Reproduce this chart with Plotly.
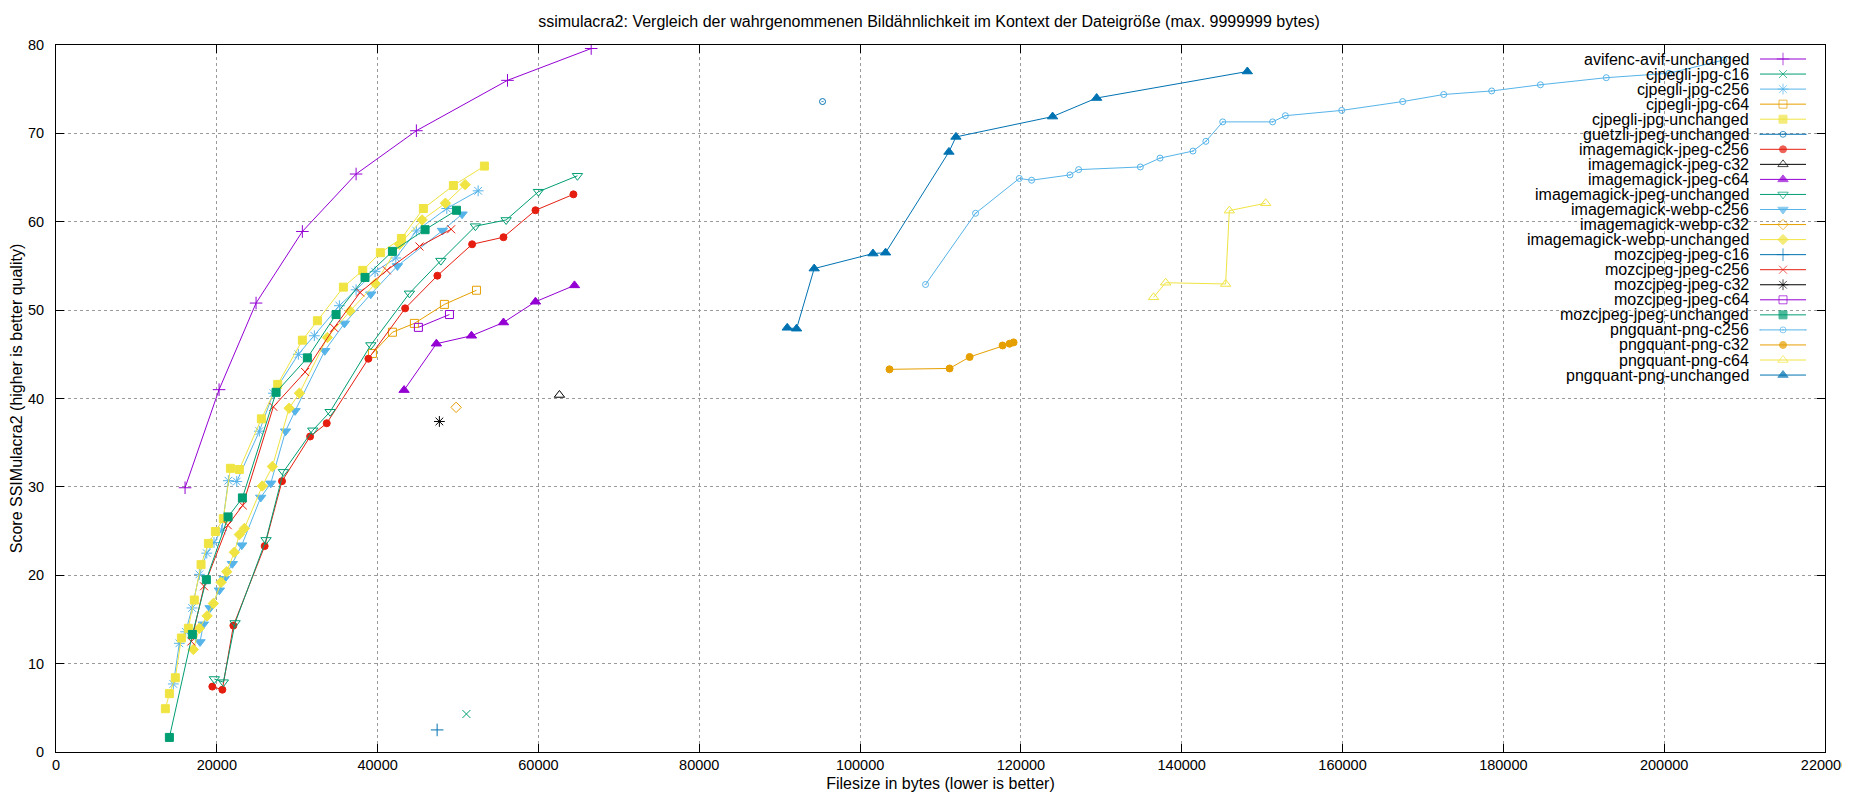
import plotly.graph_objects as go

# values (filesize in bytes, ssimulacra2 score)
avif_x = [16050, 20280, 24880, 30640, 37320, 44820, 56150, 66560]
avif_y = [29.9, 41.0, 50.8, 58.9, 65.4, 70.3, 76.0, 79.6]

cjpegli_c16_x = [51040]
cjpegli_c16_y = [4.3]

cjpegli_c256_x = [14590, 15340, 16130, 16920, 17830, 18750, 19650, 20610, 21440, 22480, 25290,
                  27030, 30140, 32130, 35240, 37320, 39680, 42260, 44820, 48600, 52500]
cjpegli_c256_y = [7.7, 12.3, 13.6, 16.3, 20.1, 22.5, 23.7, 25.1, 30.7, 30.6, 36.3,
                  40.6, 45.0, 47.1, 50.5, 52.3, 54.35, 55.9, 58.96, 61.5, 63.5]

cjpegli_c64_x = [39350, 41840, 44570, 48300, 52290]
cjpegli_c64_y = [45.1, 47.5, 48.5, 50.65, 52.25]

cjpegli_unch_x = [13600, 14100, 14840, 15590, 16460, 17200, 18040, 18950, 19820, 20810, 21690, 22800,
                  25540, 27570, 30640, 32510, 35740, 38150, 40340, 42950, 45690, 49420, 53280]
cjpegli_unch_y = [4.9, 6.6, 8.4, 12.9, 14.0, 17.2, 21.2, 23.6, 24.95, 26.4, 32.1, 31.97,
                  37.7, 41.6, 46.6, 48.8, 52.6, 54.5, 56.5, 58.1, 61.5, 64.1, 66.3]

guetzli_x = [95330]
guetzli_y = [73.6]

im_jpeg_c256_x = [19440, 20690, 22060, 25950, 28110, 31600, 33670, 38850, 43420, 47430,
                  51750, 55650, 59630, 64350]
im_jpeg_c256_y = [7.4, 7.05, 14.3, 23.3, 30.65, 35.7, 37.2, 44.5, 50.2, 53.9,
                  57.45, 58.25, 61.3, 63.1]

im_jpeg_c32_x = [62610]
im_jpeg_c32_y = [40.4]

im_jpeg_c64_x = [43290, 47310, 51670, 55650, 59630, 64480]
im_jpeg_c64_y = [40.95, 46.2, 47.1, 48.6, 50.95, 52.8]

im_jpeg_unch_x = [19690, 20810, 22270, 26120, 28280, 31930, 34090, 39150, 43950, 47860,
                  52160, 55980, 60000, 64850]
im_jpeg_unch_y = [8.26, 7.9, 14.6, 24.0, 31.7, 36.4, 38.5, 46.05, 51.9, 55.6,
                  59.5, 60.2, 63.4, 65.2]

im_webp_c256_x = [17910, 18330, 19160, 20320, 20940, 21930, 23100, 25460, 26710, 28550,
                  29730, 33420, 35870, 39150, 42460, 48060, 50500]
im_webp_c256_y = [12.45, 14.45, 16.3, 18.3, 19.6, 21.3, 23.4, 28.8, 30.4, 36.3,
                  38.6, 45.4, 48.5, 51.8, 55.0, 59.0, 60.85]

im_webp_c32_x = [49760]
im_webp_c32_y = [39.0]

im_webp_unch_x = [17080, 17830, 18790, 19570, 20530, 21230, 22180, 22800, 23430, 25660,
                  26910, 28990, 30270, 33750, 36570, 39720, 42710, 45530, 48430, 50880]
im_webp_unch_y = [11.6, 14.0, 15.4, 16.8, 19.2, 20.4, 22.6, 24.6, 25.3, 30.1,
                  32.3, 38.9, 40.6, 46.9, 49.9, 53.0, 57.45, 60.2, 62.1, 64.2]

moz_c16_x = [47400]
moz_c16_y = [2.5]

moz_c256_x = [16830, 18410, 21360, 23220, 27030, 30980, 34580, 37820, 41140, 45200, 49140]
moz_c256_y = [12.5, 18.75, 25.66, 27.9, 39.06, 43.0, 48.0, 52.0, 54.5, 57.2, 59.15]

moz_c32_x = [47680]
moz_c32_y = [37.4]

moz_c64_x = [45070, 48930]
moz_c64_y = [48.05, 49.5]

moz_unch_x = [14100, 16960, 18700, 21400, 23180, 27370, 31260, 34830, 38430, 41840, 45900, 49800]
moz_unch_y = [1.65, 13.3, 19.5, 26.6, 28.75, 40.7, 44.6, 49.5, 53.7, 56.65, 59.1, 61.3]

png_c256_x = [108140, 114360, 119800, 121330, 126100, 127180, 134850, 137300, 141400, 143000, 145100,
              151300, 152890, 159900, 167480, 172580, 178550, 184610, 192800, 200600, 207400]
png_c256_y = [52.9, 60.96, 64.9, 64.7, 65.3, 65.9, 66.2, 67.2, 68.0, 69.1, 71.3,
              71.3, 72.0, 72.6, 73.6, 74.4, 74.8, 75.5, 76.3, 76.8, 78.3]

png_c32_x = [103660, 111130, 113620, 117720, 118590, 119090]
png_c32_y = [43.3, 43.4, 44.7, 46.0, 46.2, 46.35]

png_c64_x = [136500, 138000, 145460, 145920, 150440]
png_c64_y = [51.45, 53.1, 52.96, 61.26, 62.1]

png_unch_x = [90940, 92100, 94290, 101600, 103170, 111050, 111920, 123940, 129420, 148160]
png_unch_y = [48.0, 47.9, 54.7, 56.4, 56.5, 67.9, 69.6, 71.9, 74.0, 77.0]

x_ticks = [0, 20000, 40000, 60000, 80000, 100000, 120000, 140000, 160000, 180000, 200000, 220000]
y_ticks = [0, 10, 20, 30, 40, 50, 60, 70, 80]

series = [
    ("avifenc-avif-unchanged", avif_x, avif_y),
    ("cjpegli-jpg-c16", cjpegli_c16_x, cjpegli_c16_y),
    ("cjpegli-jpg-c256", cjpegli_c256_x, cjpegli_c256_y),
    ("cjpegli-jpg-c64", cjpegli_c64_x, cjpegli_c64_y),
    ("cjpegli-jpg-unchanged", cjpegli_unch_x, cjpegli_unch_y),
    ("guetzli-jpeg-unchanged", guetzli_x, guetzli_y),
    ("imagemagick-jpeg-c256", im_jpeg_c256_x, im_jpeg_c256_y),
    ("imagemagick-jpeg-c32", im_jpeg_c32_x, im_jpeg_c32_y),
    ("imagemagick-jpeg-c64", im_jpeg_c64_x, im_jpeg_c64_y),
    ("imagemagick-jpeg-unchanged", im_jpeg_unch_x, im_jpeg_unch_y),
    ("imagemagick-webp-c256", im_webp_c256_x, im_webp_c256_y),
    ("imagemagick-webp-c32", im_webp_c32_x, im_webp_c32_y),
    ("imagemagick-webp-unchanged", im_webp_unch_x, im_webp_unch_y),
    ("mozcjpeg-jpeg-c16", moz_c16_x, moz_c16_y),
    ("mozcjpeg-jpeg-c256", moz_c256_x, moz_c256_y),
    ("mozcjpeg-jpeg-c32", moz_c32_x, moz_c32_y),
    ("mozcjpeg-jpeg-c64", moz_c64_x, moz_c64_y),
    ("mozcjpeg-jpeg-unchanged", moz_unch_x, moz_unch_y),
    ("pngquant-png-c256", png_c256_x, png_c256_y),
    ("pngquant-png-c32", png_c32_x, png_c32_y),
    ("pngquant-png-c64", png_c64_x, png_c64_y),
    ("pngquant-png-unchanged", png_unch_x, png_unch_y),
]

# gnuplot default colour / point-type cycles
colors = ["#9400d3", "#009e73", "#56b4e9", "#e69f00", "#f0e442", "#0072b2", "#e51e10", "#000000"]
symbols = [("cross-thin-open", 9), ("x-thin-open", 8), ("asterisk-open", 9), ("square-open", 8),
           ("square", 8), ("circle-open-dot", 6), ("circle", 7), ("triangle-up-open", 9),
           ("triangle-up", 9), ("triangle-down-open", 9), ("triangle-down", 9),
           ("diamond-open", 8), ("diamond", 8)]

FONT = "Liberation Sans, Arial, sans-serif"
# page body has an 8px margin; keep the figure small enough that no scrollbar appears
OFF = 8
W, H = 1850 - OFF, 800 - 2 * OFF
L, R, T = 56 - OFF, 25, 45 - OFF
B = H - (752 - OFF)
pw, ph = W - L - R, H - T - B

fig = go.Figure()

# key layout (gnuplot style: text right aligned, sample on the right)
key_text_x = (1751 - OFF - L) / pw
key_x0, key_xm, key_x1 = [(v - OFF - L) / pw for v in (1760, 1783, 1806)]
key_top = 1 - (59 - OFF - T) / ph
key_step = 15.05 / ph

annotations = []
for i, (name, xs, ys) in enumerate(series):
    c = colors[i % len(colors)]
    sym, size = symbols[i % len(symbols)]
    marker = dict(symbol=sym, size=size, color=c, line=dict(color=c, width=1))
    fig.add_trace(go.Scatter(x=xs, y=ys, mode="lines+markers", name=name,
                             line=dict(color=c, width=1), marker=marker, showlegend=False))
    ky = key_top - i * key_step
    fig.add_trace(go.Scatter(x=[key_x0, key_xm, key_x1], y=[ky, ky, ky], xaxis="x2", yaxis="y2",
                             mode="lines+markers", line=dict(color=c, width=1),
                             marker=dict(symbol=sym, size=[0, size, 0], color=c, line=dict(color=c, width=1)),
                             showlegend=False, hoverinfo="skip", cliponaxis=False))
    annotations.append(dict(x=key_text_x, y=ky, xref="paper", yref="paper", text=name, showarrow=False,
                            xanchor="right", yanchor="middle", font=dict(size=16, color="black")))

axis_common = dict(showgrid=True, gridcolor="#9a9a9a", griddash="dot", gridwidth=1, zeroline=False,
                   showline=True, linecolor="black", linewidth=1, mirror="ticks", ticks="inside",
                   ticklen=8, tickcolor="black", tickfont=dict(size=14.5), automargin=False)

fig.update_layout(
    width=W, height=H,
    margin=dict(l=L, r=R, t=T, b=B),
    paper_bgcolor="white", plot_bgcolor="white",
    font=dict(family=FONT, size=14.5, color="black"),
    title=dict(text="ssimulacra2: Vergleich der wahrgenommenen Bildähnlichkeit im Kontext der Dateigröße (max. 9999999 bytes)",
               x=0.5, xanchor="center", y=1 - 13 / H, yanchor="middle", yref="container",
               font=dict(size=16)),
    showlegend=False,
    annotations=annotations,
    shapes=[dict(type="rect", xref="paper", yref="paper", x0=(1516 - OFF - L) / pw, x1=1,
                 y0=1 - (383 - OFF - T) / ph, y1=1, fillcolor="white", line=dict(width=0), layer="between")],
    xaxis=dict(range=[0, 220000], tickvals=x_ticks, ticktext=[str(v) for v in x_ticks],
               title=dict(text="Filesize in bytes (lower is better)", standoff=6, font=dict(size=16)),
               **axis_common),
    yaxis=dict(range=[0, 80], tickvals=y_ticks, ticklabelstandoff=8,
               title=dict(text="Score SSIMulacra2 (higher is better quality)", standoff=21, font=dict(size=16)),
               **axis_common),
    xaxis2=dict(range=[0, 1], overlaying="x", visible=False, fixedrange=True),
    yaxis2=dict(range=[0, 1], overlaying="y", visible=False, fixedrange=True),
)

fig.write_html("out.html")
